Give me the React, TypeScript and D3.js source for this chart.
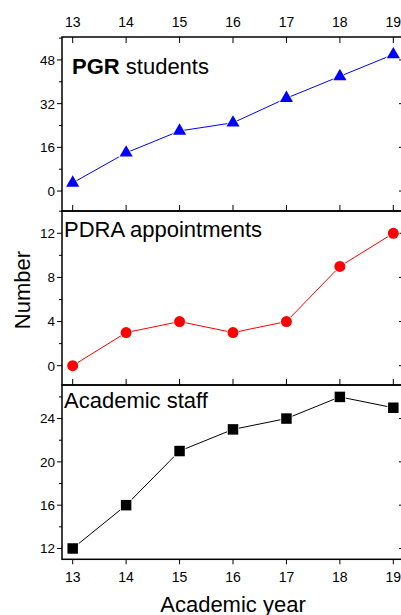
import React, { useEffect, useRef } from 'react';
import * as d3 from 'd3';

const years = [13, 14, 15, 16, 17, 18, 19];
const pgrStudents = [3, 14, 22, 25, 34, 42, 50];
const pdraAppointments = [0, 3, 4, 3, 4, 9, 12];
const academicStaff = [12, 16, 21, 23, 24, 26, 25];

const pgrTicks = [0, 16, 32, 48];
const pdraTicks = [0, 4, 8, 12];
const staffTicks = [12, 16, 20, 24];

const FONT = '"Liberation Sans", Arial, sans-serif';

interface Panel {
  values: number[];
  domain: [number, number];
  ticks: number[];
  minorStep: number;
  color: string;
  marker: 'triangle' | 'circle' | 'square';
  top: number;
  bottom: number;
}

const App: React.FC = () => {
  const svgRef = useRef<SVGSVGElement>(null);

  useEffect(() => {
    if (!svgRef.current) return;
    const svg = d3.select(svgRef.current);
    svg.selectAll('*').remove();

    const left = 62;
    const right = 404;
    const x = d3.scaleLinear().domain([12.8, 19.2]).range([left, right]);

    const panels: Panel[] = [
      { values: pgrStudents, domain: [-7.3, 56.4], ticks: pgrTicks, minorStep: 8, color: '#0000ff', marker: 'triangle', top: 37, bottom: 211 },
      { values: pdraAppointments, domain: [-1.75, 14.02], ticks: pdraTicks, minorStep: 2, color: '#ff0000', marker: 'circle', top: 211, bottom: 385 },
      { values: academicStaff, domain: [11.0, 27.1], ticks: staffTicks, minorStep: 2, color: '#000000', marker: 'square', top: 385, bottom: 559.3 },
    ];

    panels.forEach((p, i) => {
      const y = d3.scaleLinear().domain(p.domain).range([p.bottom, p.top]);
      const g = svg.append('g');

      // minor + major y ticks
      const minors = d3.range(Math.ceil(p.domain[0] / p.minorStep) * p.minorStep, p.domain[1], p.minorStep)
        .filter(v => !p.ticks.includes(v));
      minors.forEach(v => {
        g.append('line').attr('x1', left - 3).attr('x2', left).attr('y1', y(v)).attr('y2', y(v)).attr('stroke', '#000');
        g.append('line').attr('x1', right - 3).attr('x2', right).attr('y1', y(v)).attr('y2', y(v)).attr('stroke', '#000');
      });
      p.ticks.forEach(v => {
        g.append('line').attr('x1', left - 5).attr('x2', left).attr('y1', y(v)).attr('y2', y(v)).attr('stroke', '#000');
        g.append('line').attr('x1', right - 5).attr('x2', right).attr('y1', y(v)).attr('y2', y(v)).attr('stroke', '#000');
        g.append('text')
          .attr('x', left - 7).attr('y', y(v)).attr('dy', '0.36em')
          .attr('text-anchor', 'end')
          .style('font-family', FONT).style('font-size', '13.5px')
          .text(v);
      });

      // x ticks
      years.forEach(yr => {
        if (i === 0) {
          g.append('line').attr('x1', x(yr)).attr('x2', x(yr)).attr('y1', p.top).attr('y2', p.top + 6).attr('stroke', '#000');
          g.append('text').attr('x', x(yr)).attr('y', 27).attr('text-anchor', 'middle')
            .style('font-family', FONT).style('font-size', '14px').text(yr);
        }
        if (i < 2) {
          g.append('line').attr('x1', x(yr)).attr('x2', x(yr)).attr('y1', p.bottom - 6).attr('y2', p.bottom).attr('stroke', '#000');
        } else {
          g.append('line').attr('x1', x(yr)).attr('x2', x(yr)).attr('y1', p.bottom).attr('y2', p.bottom + 5).attr('stroke', '#000');
          g.append('text').attr('x', x(yr)).attr('y', 582).attr('text-anchor', 'middle')
            .style('font-family', FONT).style('font-size', '14px').text(yr);
        }
      });

      // frame
      g.append('rect')
        .attr('x', left).attr('y', p.top)
        .attr('width', right - left).attr('height', p.bottom - p.top)
        .attr('fill', 'none').attr('stroke', '#000').attr('stroke-width', 1.5);

      // line
      const line = d3.line<number>().x((_, j) => x(years[j])).y(d => y(d));
      g.append('path').datum(p.values).attr('d', line)
        .attr('fill', 'none').attr('stroke', p.color).attr('stroke-width', 1);

      // markers
      const sym = p.marker === 'triangle' ? d3.symbolTriangle : p.marker === 'circle' ? d3.symbolCircle : d3.symbolSquare;
      const size = p.marker === 'triangle' ? 75 : p.marker === 'circle' ? 95 : 110;
      g.selectAll('path.mk').data(p.values).enter().append('path')
        .attr('class', 'mk')
        .attr('d', d3.symbol().type(sym).size(size))
        .attr('transform', (d, j) => `translate(${x(years[j])},${y(d)})`)
        .attr('fill', p.color)
        .attr('stroke', '#fff').attr('stroke-width', 1.5)
        .attr('paint-order', 'stroke');
    });

    // panel labels
    const t1 = svg.append('text').attr('x', 72).attr('y', 74)
      .style('font-family', FONT).style('font-size', '22px');
    t1.append('tspan').style('font-weight', 'bold').text('PGR');
    t1.append('tspan').text(' students');

    svg.append('text').attr('x', 64).attr('y', 237)
      .style('font-family', FONT).style('font-size', '22px').text('PDRA appointments');
    svg.append('text').attr('x', 64).attr('y', 408)
      .style('font-family', FONT).style('font-size', '22px').text('Academic staff');

    // axis titles
    svg.append('text').attr('x', 233).attr('y', 612).attr('text-anchor', 'middle')
      .style('font-family', FONT).style('font-size', '22px').text('Academic year');
    svg.append('text').attr('transform', 'translate(30,290) rotate(-90)').attr('text-anchor', 'middle')
      .style('font-family', FONT).style('font-size', '22px').text('Number');
  }, []);

  return (
    <svg ref={svgRef} width={401} height={615}
      style={{ position: 'absolute', left: 0, top: 0, background: '#fff' }} />
  );
};

export default App;
